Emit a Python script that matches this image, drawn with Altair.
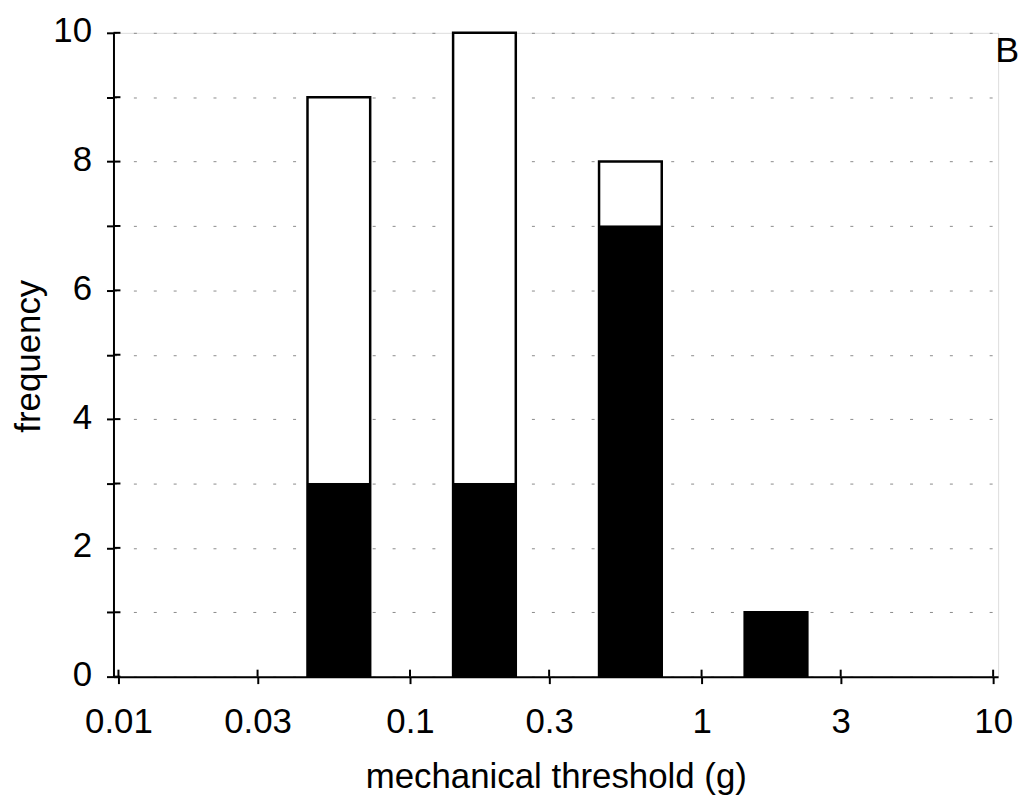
import altair as alt
import pandas as pd

# Data
bin_centers = [0.057, 0.18, 0.57, 1.8]      # mechanical threshold (g), log-spaced bins
total_counts = [9, 10, 8, 1]                 # full bar height (white + black)
black_counts = [3, 3, 7, 1]                  # filled (black) part
x_ticks = [0.01, 0.03, 0.1, 0.3, 1, 3, 10]
y_ticks = [0, 1, 2, 3, 4, 5, 6, 7, 8, 9, 10]

W, H = 889, 647
FONT = "Liberation Sans"
FS = 35

bars = pd.DataFrame({"x": bin_centers, "total": total_counts, "black": black_counts})
xt = pd.DataFrame({"v": x_ticks})
yt = pd.DataFrame({"v": y_ticks})

xscale = alt.Scale(type="log", domain=[0.01, 10], nice=False)
yscale = alt.Scale(domain=[0, 10], nice=False)

xaxis = alt.Axis(
    values=x_ticks, labelExpr="datum.value + ''", title="mechanical threshold (g)",
    grid=False, domainColor="black", domainWidth=2, tickColor="black", tickWidth=2,
    tickSize=7, labelFont=FONT, labelFontSize=FS, labelColor="black", labelPadding=21,
    labelFlush=False,
    titleFont=FONT, titleFontSize=FS, titleFontWeight="normal", titleColor="black",
    titleX=W / 2, titleY=111, titleAlign="center", titleBaseline="alphabetic",
)
yaxis = alt.Axis(
    values=y_ticks, format="d", labelExpr="datum.value % 2 == 0 ? datum.label : ''",
    title="frequency", grid=True, gridColor="#8a8a8a", gridDash=[3, 17], gridWidth=1,
    domainColor="black", domainWidth=2, tickColor="black", tickWidth=2, tickSize=7,
    labelFont=FONT, labelFontSize=FS, labelColor="black", labelPadding=15,
    labelBaseline="middle", labelOffset=-2,
    titleFont=FONT, titleFontSize=FS, titleFontWeight="normal", titleColor="black",
    titleX=-85, titleY=H / 2 + 1, titleAlign="center", titleBaseline="middle", titleAngle=-90,
)

base = alt.Chart(bars)
white = base.mark_bar(size=63, fill="white", stroke="black", strokeWidth=2.5).encode(
    x=alt.X("x:Q", scale=xscale, axis=xaxis),
    y=alt.Y("total:Q", scale=yscale, axis=yaxis),
)
black = base.mark_bar(size=63, fill="black", stroke="black", strokeWidth=1).encode(
    x=alt.X("x:Q", scale=xscale),
    y=alt.Y("black:Q", scale=yscale),
)

# inner halves of the tick marks (ticks cross the axis lines)
xin = alt.Chart(xt).mark_rule(color="black", strokeWidth=2).encode(
    x=alt.X("v:Q", scale=xscale), y=alt.value(H), y2=alt.value(H - 7)
)
yin = alt.Chart(yt).mark_rule(color="black", strokeWidth=2).encode(
    y=alt.Y("v:Q", scale=yscale), x=alt.value(0), x2=alt.value(7)
)

label = alt.Chart(pd.DataFrame({"t": ["B"]})).mark_text(
    font=FONT, fontSize=36, color="black", align="center", baseline="middle"
).encode(text="t:N", x=alt.value(898), y=alt.value(18))

chart = (
    alt.layer(white, black, xin, yin, label)
    .properties(
        width=W, height=H,
        autosize=alt.AutoSizeParams(type="none"),
        padding={"left": 106, "top": 23, "right": 23, "bottom": 117},
    )
    .configure_view(stroke=None)
    .configure(background="white")
)

chart.save("out.html", embed_options={"renderer": "svg", "actions": False})
